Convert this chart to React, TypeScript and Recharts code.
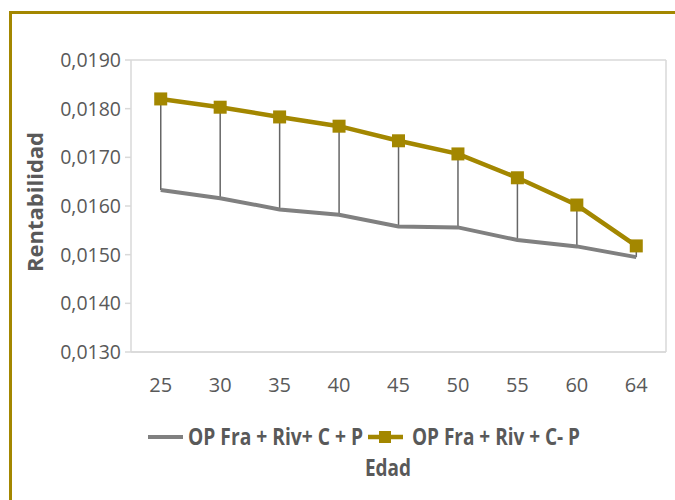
import React from 'react';
import { ComposedChart, Line, Bar, XAxis, YAxis, CartesianGrid } from 'recharts';

const categories = ['25', '30', '35', '40', '45', '50', '55', '60', '64'];
const serieGris = [0.01633, 0.01616, 0.01593, 0.01582, 0.01558, 0.01556, 0.0153, 0.01517, 0.01495];
const serieOro = [0.0182, 0.01803, 0.01783, 0.01764, 0.01734, 0.01707, 0.01658, 0.01602, 0.01518];
const yTicks = [0.013, 0.014, 0.015, 0.016, 0.017, 0.018, 0.019];
const seriesNames = ['OP Fra + Riv+ C + P', 'OP Fra + Riv + C- P'];
const xTitle = 'Edad';
const yTitle = 'Rentabilidad';

const GOLD = '#A38700';
const GRAY = '#808080';
const TEXT = '#595959';
const GRID = '#d9d9d9';
const TICK_FONT = "'Open Sans', sans-serif";

const data = categories.map((c, i) => ({
  edad: c,
  gris: serieGris[i],
  oro: serieOro[i],
  rango: [serieGris[i], serieOro[i]],
}));

const fmt = (v: number) => v.toFixed(4).replace('.', ',');

const SquareDot = (props: any) => {
  const { cx, cy, index } = props;
  if (cx == null || cy == null) return <g key={`d-${index}`} />;
  return <rect key={`d-${index}`} x={cx - 6.5} y={cy - 6.5} width={13} height={13} fill={GOLD} />;
};

const YTitle = (props: any) => {
  const vb = props.viewBox || {};
  const x = (vb.x || 0) + 34;
  const y = (vb.y || 0) + vb.height / 2 - 4;
  return (
    <text
      x={x}
      y={y}
      transform={`rotate(-90, ${x}, ${y})`}
      textAnchor="middle"
      dominantBaseline="central"
      fill={TEXT}
      style={{ fontFamily: TICK_FONT, fontWeight: 700, fontSize: 22 }}
    >
      {yTitle}
    </text>
  );
};

const legendText: React.CSSProperties = {
  fontFamily: TICK_FONT,
  fontWeight: 700,
  fontSize: 23,
};

export default function App() {
  return (
    <div style={{ position: 'absolute', left: 0, top: 0, width: 675, height: 500, overflow: 'hidden', background: '#fff' }}>
      <div
        style={{
          position: 'absolute',
          left: 9,
          top: 11,
          width: 800,
          height: 600,
          borderTop: `3px solid ${GOLD}`,
          borderLeft: `3px solid ${GOLD}`,
        }}
      />
      <div style={{ position: 'absolute', left: 0, top: 0 }}>
        <ComposedChart width={675} height={500} data={data} margin={{ top: 60, right: 0, bottom: 118, left: 0 }}>
          <CartesianGrid vertical={false} stroke={GRID} strokeWidth={1.5} />
          <XAxis
            dataKey="edad"
            height={30}
            axisLine={{ stroke: GRID, strokeWidth: 1.5 }}
            tickLine={false}
            tickSize={0}
            tickMargin={26}
            interval={0}
            tick={{ fill: TEXT, fontSize: 20, fontFamily: TICK_FONT }}
          />
          <YAxis
            yAxisId="left"
            width={131}
            domain={[0.013, 0.019]}
            ticks={yTicks}
            allowDataOverflow
            tickFormatter={fmt}
            axisLine={{ stroke: GRID, strokeWidth: 1.5 }}
            tickLine={{ stroke: GRID, strokeWidth: 1.5 }}
            tickSize={6}
            tickMargin={4}
            tick={{ fill: TEXT, fontSize: 19.5, fontFamily: TICK_FONT }}
            label={<YTitle />}
          />
          <YAxis
            yAxisId="right"
            orientation="right"
            width={9}
            domain={[0.013, 0.019]}
            tick={false}
            tickLine={false}
            axisLine={{ stroke: GRID, strokeWidth: 1.5 }}
          />
          <Line
            yAxisId="left"
            dataKey="gris"
            stroke={GRAY}
            strokeWidth={4}
            dot={false}
            isAnimationActive={false}
          />
          <Line
            yAxisId="left"
            dataKey="oro"
            stroke={GOLD}
            strokeWidth={4.5}
            dot={<SquareDot />}
            isAnimationActive={false}
          />
          <Bar yAxisId="left" dataKey="rango" barSize={1.5} fill="#666666" isAnimationActive={false} />
        </ComposedChart>
      </div>
      <svg width={675} height={90} style={{ position: 'absolute', left: 0, top: 410 }}>
        <line x1={148} y1={27} x2={183} y2={27} stroke={GRAY} strokeWidth={4} />
        <text x={188} y={35} fill={TEXT} textLength={175} lengthAdjust="spacingAndGlyphs" style={legendText}>
          {seriesNames[0]}
        </text>
        <line x1={368} y1={27} x2={403} y2={27} stroke={GOLD} strokeWidth={4.5} />
        <rect x={379} y={21} width={12} height={12} fill={GOLD} />
        <text x={412} y={35} fill={TEXT} textLength={168} lengthAdjust="spacingAndGlyphs" style={legendText}>
          {seriesNames[1]}
        </text>
        <text x={365} y={66} fill={TEXT} textLength={46} lengthAdjust="spacingAndGlyphs" style={legendText}>
          {xTitle}
        </text>
      </svg>
    </div>
  );
}
